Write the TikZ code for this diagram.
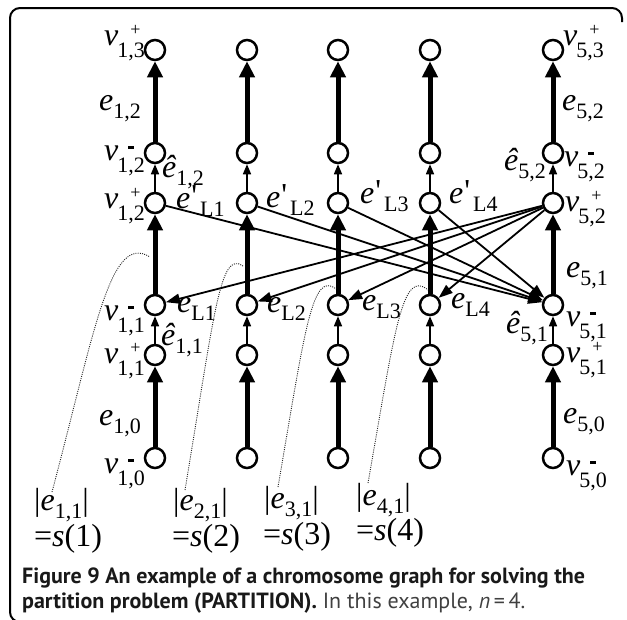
\documentclass[tikz,border=0pt]{standalone}
\usepackage{fontspec}
\setmainfont{Liberation Serif}
\newfontfamily\capfont{PT Sans}
\usetikzlibrary{arrows.meta}
\newcommand\SubT[1]{\raisebox{-8pt}{\fontsize{22}{22}\selectfont #1}}
\newcommand\VSub[1]{\raisebox{-12pt}{\fontsize{22}{22}\selectfont #1}}
\newcommand\VP[1]{\textit{v}\kern-1pt\makebox[0pt][l]{\kern13pt\raisebox{10pt}{\fontsize{18}{18}\selectfont +}}\VSub{#1}}
\newcommand\VM[1]{\textit{v}\kern-1pt\makebox[0pt][l]{\kern11pt\raisebox{11pt}{\rule{6pt}{3pt}}}\VSub{#1}}
\newcommand\EE[1]{\textit{e}\SubT{#1}}
\newcommand\EH[1]{\textit{ê}\SubT{#1}}
\newcommand\EP[1]{\textit{e}\kern1pt\raisebox{2pt}{\textquotesingle}\kern3pt\SubT{#1}}
\tikzset{
  vc/.style={circle, draw, line width=2.5pt, fill=white, minimum size=20pt, inner sep=0pt},
  thk/.style={line width=5pt, -{Triangle[length=16pt,width=15pt]}},
  thn/.style={line width=1.5pt, -{Triangle[length=10pt,width=8pt]}},
  dia/.style={line width=1.8pt, -{Triangle[length=14pt,width=10pt]}},
  lab/.style={inner sep=0pt, font=\fontsize{32}{32}\selectfont},
  dots/.style={line width=0.9pt, dash pattern=on 1pt off 1.2pt, black!85},
  capt/.style={inner sep=0pt, anchor=base west, font=\capfont\fontsize{22}{22}\selectfont, text=black!90}
}
\begin{document}
\begin{tikzpicture}[x=1pt,y=-1pt]
\useasboundingbox (0,0) rectangle (627,619);
\draw[line width=2pt, rounded corners=10pt] (20,622) -- (10,622) -- (10,8) -- (622,8) -- (622,22);
\foreach \i/\x in {1/155,2/247,3/338,4/430,5/553} {
  \node[vc] (v\i0m) at (\x,458) {};
  \node[vc] (v\i1p) at (\x,355) {};
  \node[vc] (v\i1m) at (\x,305) {};
  \node[vc] (v\i2p) at (\x,203) {};
  \node[vc] (v\i2m) at (\x,153) {};
  \node[vc] (v\i3p) at (\x,50) {};
  \draw[thk] (v\i0m) -- (v\i1p);
  \draw[thk] (v\i1m) -- (v\i2p);
  \draw[thk] (v\i2m) -- (v\i3p);
  \draw[thn] (v\i1p) -- (v\i1m);
  \draw[thn] (v\i2p) -- (v\i2m);
}
\foreach \i in {1,2,3,4} {
  \draw[dia] (v\i2p) -- (v51m);
  \draw[dia] (v52p) -- (v\i1m);
}
% dotted curves
\coordinate (d1a) at (52,492);  \coordinate (d1b) at (150,257);
\coordinate (d2a) at (185,490); \coordinate (d2b) at (243,266);
\coordinate (d3a) at (278,487); \coordinate (d3b) at (336,289);
\coordinate (d4a) at (368,483); \coordinate (d4b) at (428,290);
\draw[dots] (d1a) .. controls (95,330) and (110,232) .. (d1b);
\draw[dots] (d2a) .. controls (215,310) and (220,250) .. (d2b);
\draw[dots] (d3a) .. controls (305,330) and (312,270) .. (d3b);
\draw[dots] (d4a) .. controls (395,330) and (402,268) .. (d4b);
% left labels of column 1
\node[lab, anchor=base east] (l13) at (145,45) {\VP{1,3}};
\node[lab, anchor=base east] (le12) at (141,110) {\EE{1,2}};
\node[lab, anchor=base east] (l12m) at (145,160) {\VM{1,2}};
\node[lab, anchor=base east] (l12p) at (145,208) {\VP{1,2}};
\node[lab, anchor=base east] (l11m) at (145,320) {\VM{1,1}};
\node[lab, anchor=base east] (l11p) at (145,363) {\VP{1,1}};
\node[lab, anchor=base east] (le10) at (141,425) {\EE{1,0}};
\node[lab, anchor=base east] (l10m) at (145,473) {\VM{1,0}};
% right labels of column 1
\node[lab, anchor=base west] (h12) at (162,177) {\EH{1,2}};
\node[lab, anchor=base west] (p1) at (176,208) {\EP{L1}};
\node[lab, anchor=base west] (q1) at (177,312) {\EE{L1}};
\node[lab, anchor=base west] (h11) at (161,345) {\EH{1,1}};
% columns 2-4
\node[lab, anchor=base west] (p2) at (266,207) {\EP{L2}};
\node[lab, anchor=base west] (q2) at (267,312) {\EE{L2}};
\node[lab, anchor=base west] (p3) at (360,203) {\EP{L3}};
\node[lab, anchor=base west] (q3) at (362,310) {\EE{L3}};
\node[lab, anchor=base west] (p4) at (449,203) {\EP{L4}};
\node[lab, anchor=base west] (q4) at (451,308) {\EE{L4}};
% column 5
\node[lab, anchor=base west] (l53) at (563,45) {\VP{5,3}};
\node[lab, anchor=base west] (le52) at (562,110) {\EE{5,2}};
\node[lab, anchor=base west] (l52m) at (564,166) {\VM{5,2}};
\node[lab, anchor=base east] (h52) at (546,170) {\EH{5,2}};
\node[lab, anchor=base west] (l52p) at (565,211) {\VP{5,2}};
\node[lab, anchor=base west] (le51) at (566,277) {\EE{5,1}};
\node[lab, anchor=base west] (l51m) at (566,326) {\VM{5,1}};
\node[lab, anchor=base east] (h51) at (548,333) {\EH{5,1}};
\node[lab, anchor=base west] (l51p) at (566,362) {\VP{5,1}};
\node[lab, anchor=base west] (le50) at (563,423) {\EE{5,0}};
\node[lab, anchor=base west] (l50m) at (566,475) {\VM{5,0}};
% bottom labels
\node[lab, anchor=base west] (b1) at (34,510) {|\EE{1,1}|};
\node[lab, anchor=base west] (s1) at (34,546) {=\textit{s}(1)};
\node[lab, anchor=base west] (b2) at (173,510) {|\EE{2,1}|};
\node[lab, anchor=base west] (s2) at (172,546) {=\textit{s}(2)};
\node[lab, anchor=base west] (b3) at (264,508) {|\EE{3,1}|};
\node[lab, anchor=base west] (s3) at (263,544) {=\textit{s}(3)};
\node[lab, anchor=base west] (b4) at (356,505) {|\EE{4,1}|};
\node[lab, anchor=base west] (s4) at (356,540) {=\textit{s}(4)};
% caption
\node[capt] (cap1) at (22,583) {\bfseries Figure 9 An example of a chromosome graph for solving the};
\node[capt] (cap2) at (22,608) {\textbf{partition problem (PARTITION).} {\color{black!75}In this example, \textit{n}\,=\,4.}};
\end{tikzpicture}
\end{document}
